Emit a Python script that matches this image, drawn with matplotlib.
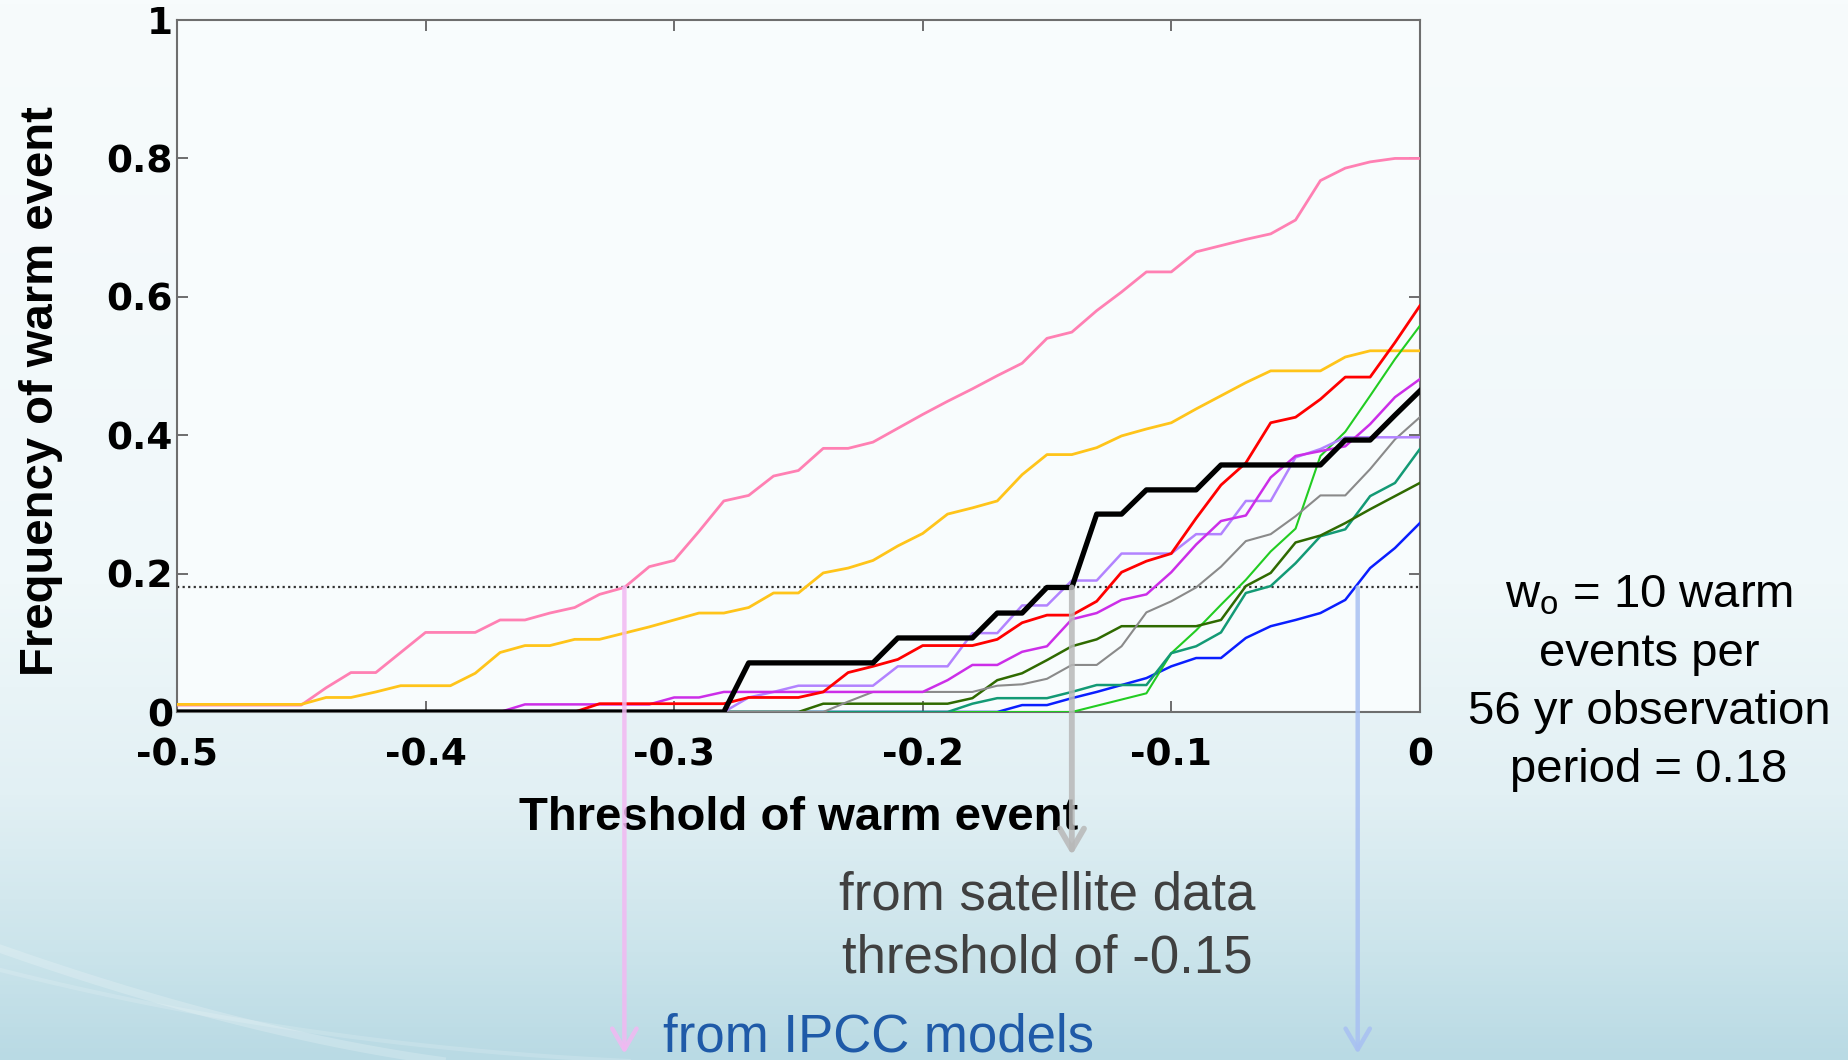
import numpy as np
import matplotlib.pyplot as plt
from matplotlib.colors import LinearSegmentedColormap

# thresholds of warm event (step 0.01)
thresholds = np.linspace(-0.5, 0.0, 51)

# frequency of warm events for each model / dataset
freq_pink = [0.010, 0.010, 0.010, 0.010, 0.010, 0.010, 0.035, 0.057, 0.057, 0.086,
             0.115, 0.115, 0.115, 0.133, 0.133, 0.143, 0.151, 0.170, 0.180, 0.210,
             0.219, 0.261, 0.305, 0.313, 0.341, 0.349, 0.381, 0.381, 0.390, 0.410,
             0.430, 0.449, 0.467, 0.486, 0.504, 0.540, 0.549, 0.580, 0.607, 0.636,
             0.636, 0.665, 0.674, 0.683, 0.691, 0.711, 0.768, 0.786, 0.795, 0.800,
             0.800]
freq_orange = [0.011, 0.011, 0.011, 0.011, 0.011, 0.011, 0.021, 0.021, 0.029, 0.038,
               0.038, 0.038, 0.056, 0.086, 0.096, 0.096, 0.105, 0.105, 0.114, 0.123,
               0.133, 0.143, 0.143, 0.151, 0.172, 0.172, 0.201, 0.208, 0.219, 0.240,
               0.258, 0.286, 0.295, 0.305, 0.343, 0.372, 0.372, 0.382, 0.399, 0.409,
               0.418, 0.438, 0.457, 0.476, 0.493, 0.493, 0.493, 0.513, 0.522, 0.522,
               0.522]
freq_obs = [0, 0, 0, 0, 0, 0, 0, 0, 0, 0,
            0, 0, 0, 0, 0, 0, 0, 0, 0, 0,
            0, 0, 0, 0.071, 0.071, 0.071, 0.071, 0.071, 0.071, 0.107,
            0.107, 0.107, 0.107, 0.143, 0.143, 0.180, 0.180, 0.286, 0.286, 0.321,
            0.321, 0.321, 0.357, 0.357, 0.357, 0.357, 0.357, 0.393, 0.393, 0.429,
            0.464]
freq_red = [0, 0, 0, 0, 0, 0, 0, 0, 0, 0,
            0, 0, 0, 0, 0, 0, 0, 0.012, 0.012, 0.012,
            0.012, 0.012, 0.012, 0.021, 0.021, 0.021, 0.029, 0.057, 0.066, 0.076,
            0.096, 0.096, 0.096, 0.105, 0.129, 0.140, 0.140, 0.160, 0.202, 0.218,
            0.229, 0.280, 0.328, 0.360, 0.418, 0.426, 0.452, 0.484, 0.484, 0.534,
            0.587]
freq_magenta = [0, 0, 0, 0, 0, 0, 0, 0, 0, 0,
                0, 0, 0, 0, 0.011, 0.011, 0.011, 0.011, 0.011, 0.011,
                0.021, 0.021, 0.029, 0.029, 0.029, 0.029, 0.029, 0.029, 0.029, 0.029,
                0.029, 0.046, 0.068, 0.068, 0.087, 0.095, 0.134, 0.143, 0.162, 0.170,
                0.202, 0.242, 0.276, 0.284, 0.339, 0.370, 0.377, 0.384, 0.416, 0.455,
                0.481]
freq_lavender = [0, 0, 0, 0, 0, 0, 0, 0, 0, 0,
                 0, 0, 0, 0, 0, 0, 0, 0, 0, 0,
                 0, 0, 0, 0.021, 0.029, 0.038, 0.038, 0.038, 0.038, 0.066,
                 0.066, 0.066, 0.114, 0.114, 0.154, 0.154, 0.190, 0.190, 0.229, 0.229,
                 0.229, 0.257, 0.257, 0.305, 0.305, 0.368, 0.380, 0.397, 0.397, 0.397,
                 0.397]
freq_gray = [0, 0, 0, 0, 0, 0, 0, 0, 0, 0,
             0, 0, 0, 0, 0, 0, 0, 0, 0, 0,
             0, 0, 0, 0, 0, 0, 0, 0.015, 0.029, 0.029,
             0.029, 0.029, 0.029, 0.038, 0.040, 0.048, 0.068, 0.068, 0.095, 0.144,
             0.160, 0.180, 0.210, 0.247, 0.257, 0.283, 0.313, 0.313, 0.351, 0.394,
             0.426]
freq_olive = [0, 0, 0, 0, 0, 0, 0, 0, 0, 0,
              0, 0, 0, 0, 0, 0, 0, 0, 0, 0,
              0, 0, 0, 0, 0, 0, 0.012, 0.012, 0.012, 0.012,
              0.012, 0.012, 0.020, 0.046, 0.056, 0.075, 0.095, 0.105, 0.124, 0.124,
              0.124, 0.124, 0.133, 0.182, 0.201, 0.245, 0.255, 0.273, 0.293, 0.312,
              0.331]
freq_teal = [0, 0, 0, 0, 0, 0, 0, 0, 0, 0,
             0, 0, 0, 0, 0, 0, 0, 0, 0, 0,
             0, 0, 0, 0, 0, 0, 0, 0, 0, 0,
             0, 0, 0.012, 0.020, 0.020, 0.020, 0.029, 0.039, 0.039, 0.039,
             0.085, 0.095, 0.115, 0.172, 0.182, 0.215, 0.254, 0.264, 0.312, 0.331,
             0.380]
freq_green = [0, 0, 0, 0, 0, 0, 0, 0, 0, 0,
              0, 0, 0, 0, 0, 0, 0, 0, 0, 0,
              0, 0, 0, 0, 0, 0, 0, 0, 0, 0,
              0, 0, 0, 0, 0, 0, 0, 0.009, 0.018, 0.027,
              0.085, 0.118, 0.155, 0.191, 0.232, 0.265, 0.370, 0.405, 0.457, 0.510,
              0.558]
freq_blue = [0, 0, 0, 0, 0, 0, 0, 0, 0, 0,
             0, 0, 0, 0, 0, 0, 0, 0, 0, 0,
             0, 0, 0, 0, 0, 0, 0, 0, 0, 0,
             0, 0, 0, 0, 0.010, 0.010, 0.020, 0.029, 0.039, 0.049,
             0.066, 0.078, 0.078, 0.107, 0.124, 0.133, 0.143, 0.162, 0.208, 0.237,
             0.273]

w0_freq = 0.18          # 10 warm events / 56 yr
x_ipcc_low = -0.32      # pink model hits w0
x_satellite = -0.14     # observed curve hits w0
x_ipcc_high = -0.025    # blue model hits w0

xtick_vals = [-0.5, -0.4, -0.3, -0.2, -0.1, 0.0]
xtick_text = ['-0.5', '-0.4', '-0.3', '-0.2', '-0.1', '0']
ytick_vals = [0, 0.2, 0.4, 0.6, 0.8, 1.0]
ytick_text = ['0', '0.2', '0.4', '0.6', '0.8', '1']

fig = plt.figure(figsize=(18.49, 10.60), dpi=100)

# slide background gradient
bg = fig.add_axes([0, 0, 1, 1], zorder=-10)
slide_cmap = LinearSegmentedColormap.from_list(
    'slide', [(0.0, '#f7fbfc'), (0.55, '#f0f8fa'), (0.75, '#e2f0f4'),
              (0.9, '#cbe4eb'), (1.0, '#b9dae4')])
bg.imshow(np.linspace(0, 1, 256).reshape(-1, 1), cmap=slide_cmap,
          aspect='auto', extent=[0, 1, 0, 1])
t = np.linspace(0, 1, 200)
bg.plot(0.30 * t, 0.115 * (1 - t) ** 1.6 - 0.01, color='white', lw=6, alpha=0.2)
bg.plot(0.45 * t, 0.09 * (1 - t) ** 2.2 - 0.005, color='white', lw=3, alpha=0.15)
bg.set_xlim(0, 1)
bg.set_ylim(0, 1)
bg.axis('off')

ax = fig.add_axes([0.0957, 0.3283, 0.6722, 0.6528])
ax.set_facecolor('#f8fcfd')

curves = [
    (freq_pink, '#ff80b3', 2.0),
    (freq_orange, '#ffc41a', 2.0),
    (freq_blue, '#0a1eff', 1.8),
    (freq_green, '#22cc22', 1.5),
    (freq_teal, '#139a75', 1.8),
    (freq_olive, '#2f6a00', 1.8),
    (freq_gray, '#8a8a8a', 1.5),
    (freq_lavender, '#b283ff', 1.8),
    (freq_magenta, '#cc2ee8', 1.8),
    (freq_red, '#ff0000', 2.0),
]
for vals, col, lw in curves:
    ax.plot(thresholds, vals, color=col, lw=lw, zorder=3)
ax.plot(thresholds, freq_obs, color='black', lw=3.8, zorder=4)

ax.axhline(w0_freq, color='#333333', ls=(0, (1, 1.5)), lw=1.6, zorder=2)

ax.set_xlim(-0.5, 0)
ax.set_ylim(0, 1)
ax.set_xticks(xtick_vals)
ax.set_xticklabels(xtick_text)
ax.set_yticks(ytick_vals)
ax.set_yticklabels(ytick_text)
ax.tick_params(direction='in', length=8, width=1.2, color='#555555',
               top=True, right=True, labelsize=27)
ax.tick_params(axis='x', pad=18)
ax.tick_params(axis='y', pad=3)
for lab in ax.get_xticklabels() + ax.get_yticklabels():
    lab.set_fontweight('bold')
    lab.set_family('DejaVu Sans')
for sp in ax.spines.values():
    sp.set_color('#6e6e6e')
    sp.set_linewidth(1.5)

ax.set_xlabel('Threshold of warm event', fontsize=34, fontweight='bold',
              family='Liberation Sans')
ax.set_ylabel('Frequency of warm event', fontsize=34, fontweight='bold',
              family='Liberation Sans')
ax.xaxis.set_label_coords(0.5, -0.121)
ax.yaxis.set_label_coords(-0.092, 0.464)

# arrows dropping from the w0 line
arrow_kw = dict(shrinkA=0, shrinkB=0, mutation_scale=25)
ax.annotate('', xy=(x_ipcc_low, -0.494), xytext=(x_ipcc_low, w0_freq),
            arrowprops=dict(arrowstyle='->,head_length=0.6,head_width=0.35',
                            color='#f2b8f2', lw=3.2, alpha=0.85, **arrow_kw),
            annotation_clip=False, zorder=5)
ax.annotate('', xy=(x_satellite, -0.207), xytext=(x_satellite, w0_freq),
            arrowprops=dict(arrowstyle='->,head_length=0.6,head_width=0.35',
                            color='#b8b8b8', lw=4.2, alpha=0.85, **arrow_kw),
            annotation_clip=False, zorder=5)
ax.annotate('', xy=(x_ipcc_high, -0.494), xytext=(x_ipcc_high, w0_freq),
            arrowprops=dict(arrowstyle='->,head_length=0.6,head_width=0.35',
                            color='#a8c0f2', lw=3.2, alpha=0.85, **arrow_kw),
            annotation_clip=False, zorder=5)

fig.text(1649 / 1849, 1 - 683 / 1060,
         'w$_\\mathregular{o}$ = 10 warm\nevents per\n56 yr observation\nperiod = 0.18',
         ha='center', va='center', ma='center', fontsize=34,
         family='Liberation Sans', color='black', linespacing=1.42)
fig.text(1047 / 1849, 1 - 927 / 1060, 'from satellite data\nthreshold of -0.15',
         ha='center', va='center', ma='center', fontsize=38,
         family='Liberation Sans', color='#404040', linespacing=1.32)
fig.text(663 / 1849, 1 - 1051 / 1060, 'from IPCC models',
         ha='left', va='baseline', fontsize=38,
         family='Liberation Sans', color='#1f5aa8')

fig.savefig('out.png', dpi=100)
